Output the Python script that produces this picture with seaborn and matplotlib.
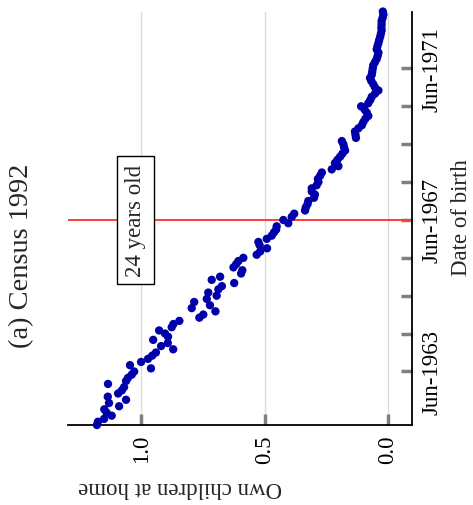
import matplotlib
matplotlib.use("Agg")
import matplotlib.pyplot as plt
import matplotlib.dates as mdates
import numpy as np
import pandas as pd
import seaborn as sns

# Average number of own children living at home, by month of birth (Census 1992)
own_children = [
    1.179, 1.175, 1.150, 1.119, 1.140, 1.149, 1.089, 1.130, 1.061, 1.135,
    1.093, 1.078, 1.069, 1.134, 1.061, 1.053, 1.038, 1.028, 0.960, 1.045,
    1.000, 0.972, 0.955, 0.940, 0.870, 0.919, 0.892, 0.951, 0.891, 0.903,
    0.927, 0.876, 0.869, 0.845, 0.764, 0.748, 0.699, 0.795, 0.721, 0.785,
    0.734, 0.694, 0.728, 0.687, 0.673, 0.623, 0.714, 0.680, 0.595, 0.590,
    0.626, 0.615, 0.606, 0.586, 0.532, 0.518, 0.490, 0.520, 0.525, 0.491,
    0.471, 0.462, 0.453, 0.451, 0.404, 0.424, 0.390, 0.380, 0.336, 0.333,
    0.326, 0.323, 0.300, 0.296, 0.309, 0.309, 0.289, 0.282, 0.284, 0.275,
    0.268, 0.228, 0.201, 0.215, 0.205, 0.194, 0.185, 0.174, 0.178, 0.181,
    0.187, 0.130, 0.132, 0.134, 0.120, 0.106, 0.100, 0.092, 0.080, 0.086,
    0.095, 0.109, 0.080, 0.072, 0.066, 0.053, 0.039, 0.053, 0.060, 0.068,
    0.073, 0.066, 0.064, 0.062, 0.060, 0.053, 0.046, 0.042, 0.039, 0.046,
    0.043, 0.039, 0.036, 0.032, 0.029, 0.026, 0.027, 0.026, 0.026, 0.022,
    0.019, 0.021,
]
first_birth_month = "1962-01-01"
birth_dates = pd.date_range(first_birth_month, periods=len(own_children), freq="MS")

date_ticks = pd.date_range("1963-06-01", "1971-06-01", freq="12MS")
date_tick_labels = ["Jun-1963", "", "", "", "Jun-1967", "", "", "", "Jun-1971"]
value_ticks = [1.0, 0.5, 0.0]
value_tick_labels = ["1.0", "0.5", "0.0"]

cutoff_date = pd.Timestamp("1967-06-01")
cutoff_label = "24 years old"
title = "(a) Census 1992"

df = pd.DataFrame({"birth": birth_dates, "own": own_children})

sns.set_theme(style="white")
plt.rcParams["font.family"] = ["Liberation Serif", "DejaVu Serif"]
plt.rcParams["mathtext.fontset"] = "stix"

fig = plt.figure(figsize=(4.73, 5.06), dpi=100)
ax = fig.add_axes([68 / 473, 1 - 426 / 506, 344 / 473, 413.5 / 506])

sns.scatterplot(data=df, x="own", y="birth", ax=ax, color="#0000aa",
                s=36, edgecolor="none", linewidth=0, clip_on=False, zorder=3)

ax.set_xlim(1.296, -0.097)
ax.set_ylim(mdates.date2num(birth_dates[0]), mdates.date2num(birth_dates[-1]) + 0.5)

ax.axhline(mdates.date2num(cutoff_date), color="#ff3b3b", lw=1.4, zorder=2)
ax.text(1.024, mdates.date2num(cutoff_date), cutoff_label, rotation=90,
        ha="center", va="center", fontsize=16.5, zorder=5,
        bbox=dict(boxstyle="square,pad=0.35", fc="white", ec="black", lw=1))

ax.grid(axis="x", color="#dcdcdc", lw=1)
ax.grid(axis="y", visible=False)
ax.set_axisbelow(True)

for side in ("top", "left"):
    ax.spines[side].set_visible(False)
for side in ("bottom", "right"):
    ax.spines[side].set_visible(True)
    ax.spines[side].set_color("black")
    ax.spines[side].set_linewidth(1.3)

ax.set_xticks(value_ticks)
ax.set_xticklabels(value_tick_labels)
ax.yaxis.tick_right()
ax.set_yticks(mdates.date2num(date_ticks))
ax.set_yticklabels(date_tick_labels)

ax.tick_params(axis="both", direction="in", length=8, width=2.5,
               color="#808080", labelsize=16.5, labelcolor="black")
ax.tick_params(axis="x", pad=6.5, labelrotation=90, bottom=True)
ax.tick_params(axis="y", pad=7, right=True, left=False)
for lab in ax.get_yticklabels():
    lab.set_rotation(90)
    lab.set_ha("left")
    lab.set_va("center")

ax.set_xlabel("Own children at home", fontsize=16.5, rotation=180)
ax.xaxis.label.set_ha("center")
ax.xaxis.label.set_va("center")
ax.xaxis.set_label_coords((180 - 68) / 344, (426 - 488) / 413.5)

ax.yaxis.set_label_position("right")
ax.set_ylabel("Date of birth", fontsize=16.5, rotation=90)
ax.yaxis.label.set_ha("center")
ax.yaxis.label.set_va("center")
ax.yaxis.set_label_coords((461 - 68) / 344, (426 - 218) / 413.5)

fig.text(22 / 473, 1 - 256 / 506, title, rotation=90, ha="center", va="center",
         fontsize=20.5)

fig.savefig("out.png", dpi=100)
